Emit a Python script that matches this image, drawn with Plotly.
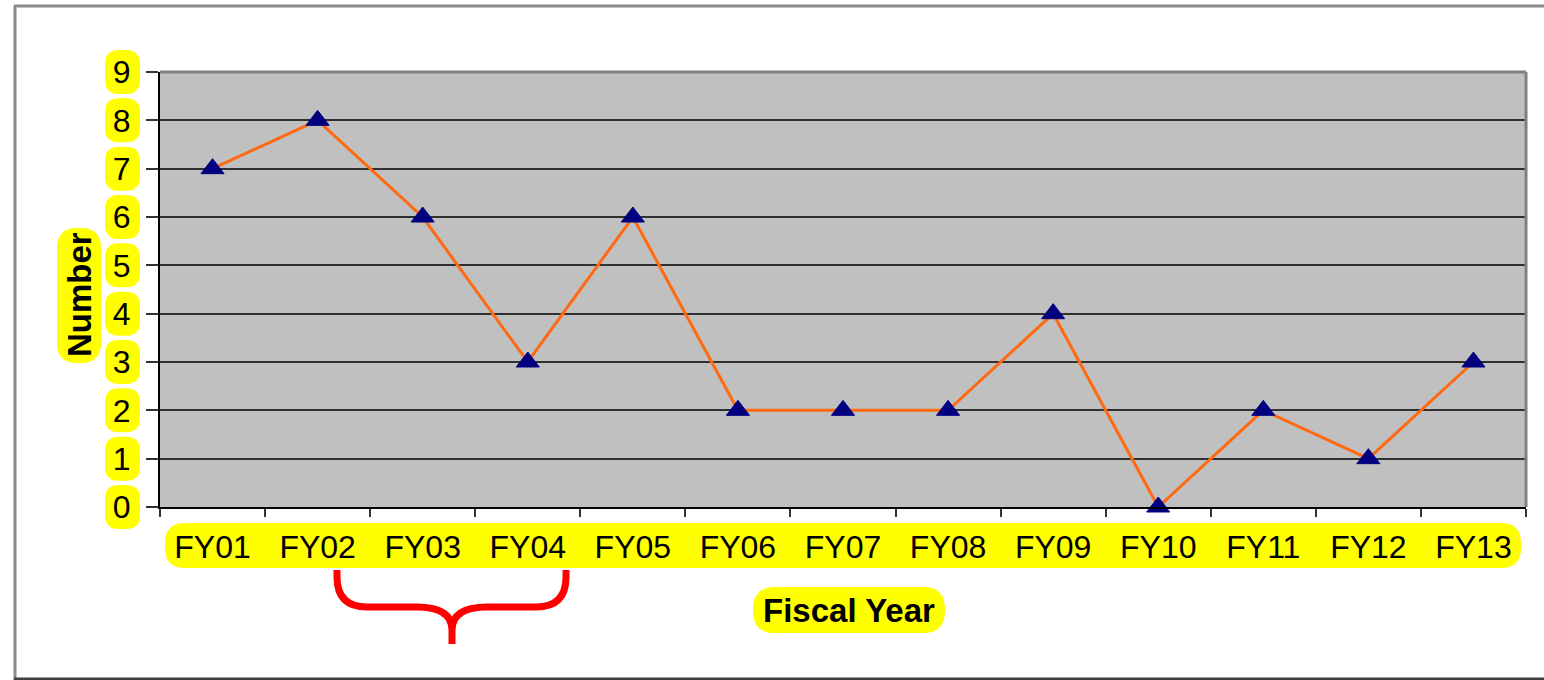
import plotly.graph_objects as go

# ---- data ----
years = ["FY01", "FY02", "FY03", "FY04", "FY05", "FY06", "FY07",
         "FY08", "FY09", "FY10", "FY11", "FY12", "FY13"]
counts = [7, 8, 6, 3, 6, 2, 2, 2, 4, 0, 2, 1, 3]
y_ticks = [0, 1, 2, 3, 4, 5, 6, 7, 8, 9]

W, H = 1544, 680
L, R, T, B = 160, 18, 72, 173
PW, PH = W - L - R, H - T - B
YMAX = 9


def px(x):
    return (x - L) / PW


def py(y):
    return (H - B - y) / PH


def pill(x0, y0, x1, y1, r):
    """rounded rect path given in pixels, returned in paper coords"""
    pts = [
        ("M", [(x0 + r, y0)]),
        ("L", [(x1 - r, y0)]),
        ("Q", [(x1, y0), (x1, y0 + r)]),
        ("L", [(x1, y1 - r)]),
        ("Q", [(x1, y1), (x1 - r, y1)]),
        ("L", [(x0 + r, y1)]),
        ("Q", [(x0, y1), (x0, y1 - r)]),
        ("L", [(x0, y0 + r)]),
        ("Q", [(x0, y0), (x0 + r, y0)]),
    ]
    s = ""
    for cmd, ps in pts:
        s += cmd + " ".join(f"{px(a):.5f},{py(b):.5f}" for a, b in ps)
    return s + "Z"


def path_px(cmds):
    s = ""
    for cmd, ps in cmds:
        s += cmd + " ".join(f"{px(a):.5f},{py(b):.5f}" for a, b in ps)
    return s


YELLOW = "#FFFF00"
shapes = []

# yellow highlights behind y tick labels
for v in y_ticks:
    cy = (H - B) - v * PH / YMAX
    shapes.append(dict(type="path", xref="paper", yref="paper", layer="below",
                       path=pill(105, cy - 22, 140, cy + 22, 14),
                       fillcolor=YELLOW, line=dict(width=0)))
# yellow band behind x tick labels
shapes.append(dict(type="path", xref="paper", yref="paper", layer="below",
                   path=pill(165, 523, 1521, 568, 20),
                   fillcolor=YELLOW, line=dict(width=0)))
# yellow behind axis titles
shapes.append(dict(type="path", xref="paper", yref="paper", layer="below",
                   path=pill(57, 228, 101, 363, 20),
                   fillcolor=YELLOW, line=dict(width=0)))
shapes.append(dict(type="path", xref="paper", yref="paper", layer="below",
                   path=pill(753, 587, 945, 633, 22),
                   fillcolor=YELLOW, line=dict(width=0)))

# plot area top / right border
shapes.append(dict(type="line", xref="paper", yref="paper", x0=0, x1=1, y0=1, y1=1,
                   line=dict(color="#808080", width=3), layer="above"))
shapes.append(dict(type="line", xref="paper", yref="paper", x0=1, x1=1, y0=0, y1=1,
                   line=dict(color="#808080", width=3), layer="above"))

# outer frame
shapes.append(dict(type="line", xref="paper", yref="paper", x0=px(15), x1=px(15),
                   y0=py(6), y1=py(680), line=dict(color="#8a8a8a", width=3)))
shapes.append(dict(type="line", xref="paper", yref="paper", x0=px(14), x1=px(1544),
                   y0=py(6), y1=py(6), line=dict(color="#8a8a8a", width=3)))
shapes.append(dict(type="line", xref="paper", yref="paper", x0=px(14), x1=px(1544),
                   y0=py(679), y1=py(679), line=dict(color="#404040", width=3)))

# red curly brace
brace = path_px([
    ("M", [(337, 570)]), ("L", [(337, 577)]),
    ("Q", [(337, 607), (367, 607)]), ("L", [(417, 607)]),
    ("Q", [(452, 607), (452, 630)]), ("L", [(452, 644)]),
    ("M", [(452, 630)]),
    ("Q", [(452, 607), (487, 607)]), ("L", [(536, 607)]),
    ("Q", [(566, 607), (566, 577)]), ("L", [(566, 570)]),
])
shapes.append(dict(type="path", xref="paper", yref="paper", path=brace,
                   line=dict(color="#FF0000", width=7), layer="above"))

FONT = "Liberation Sans, Arial, sans-serif"

fig = go.Figure()
fig.add_trace(go.Scatter(
    x=years, y=counts, mode="lines+markers",
    line=dict(color="#FF6A10", width=3),
    marker=dict(symbol="triangle-up", size=20, color="#000080",
                line=dict(color="#000080", width=1)),
    showlegend=False, cliponaxis=False,
))

annotations = [
    dict(text="<b>Number</b>", x=px(79), y=py(295), xref="paper", yref="paper",
         xanchor="center", yanchor="middle",
         textangle=-90, showarrow=False, font=dict(family=FONT, size=33, color="black")),
    dict(text="<b>Fiscal Year</b>", x=px(849), y=py(610), xref="paper", yref="paper",
         xanchor="center", yanchor="middle",
         showarrow=False, font=dict(family=FONT, size=33, color="black")),
]

fig.update_layout(
    width=W, height=H,
    margin=dict(l=L, r=R, t=T, b=B, pad=0),
    paper_bgcolor="white", plot_bgcolor="#C0C0C0",
    shapes=shapes, annotations=annotations,
    font=dict(family=FONT, size=32, color="black"),
    xaxis=dict(type="category", categoryorder="array", categoryarray=years,
               range=[-0.5, len(years) - 0.5],
               showgrid=False, zeroline=False,
               showline=True, linecolor="black", linewidth=2,
               ticks="outside", tickson="boundaries", ticklen=8,
               tickcolor="#333", tickwidth=2,
               tickfont=dict(family=FONT, size=32, color="black"),
               ticklabelstandoff=11),
    yaxis=dict(range=[0, YMAX], tickvals=y_ticks, ticktext=[str(v) for v in y_ticks],
               showgrid=True, gridcolor="#303030", gridwidth=2,
               zeroline=False,
               showline=True, linecolor="black", linewidth=2,
               ticks="outside", ticklen=12, tickcolor="#333", tickwidth=2,
               tickfont=dict(family=FONT, size=32, color="black"),
               ticklabelstandoff=9),
)

fig.write_html("out.html", config={"displayModeBar": False},
               post_script="document.body.style.margin='0px';")
